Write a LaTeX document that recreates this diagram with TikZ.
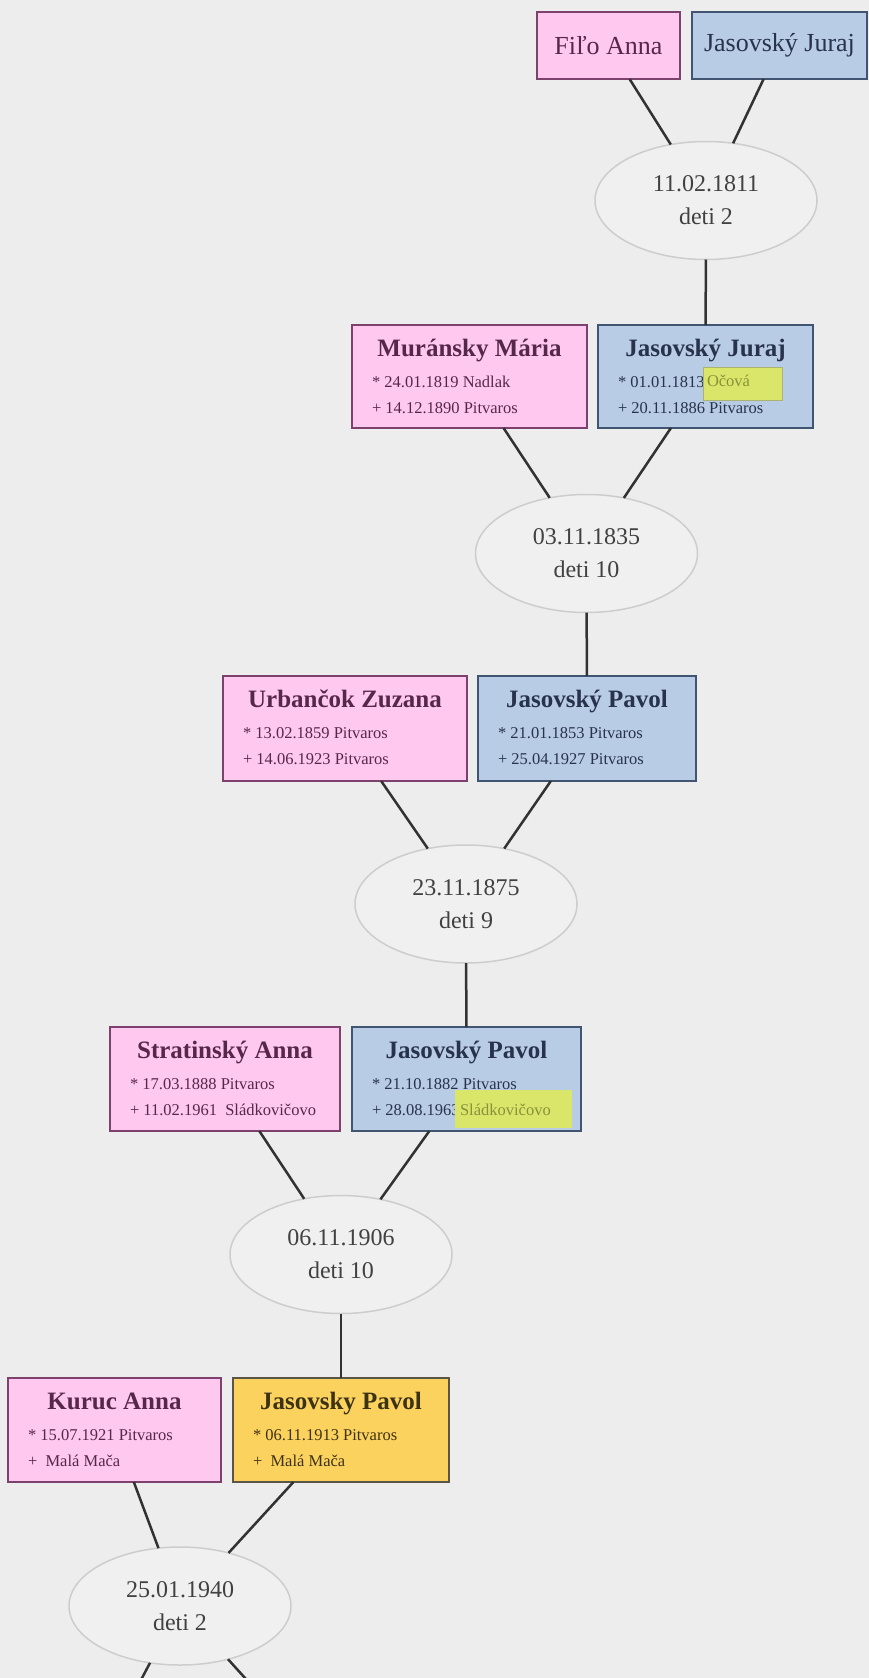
\documentclass[tikz,border=0pt]{standalone}
\usepackage{fontspec}
\setmainfont{Liberation Serif}
\usetikzlibrary{shapes.geometric}
\definecolor{bgc}{RGB}{237,237,237}
\definecolor{pinkf}{RGB}{255,200,238}
\definecolor{pinkd}{RGB}{125,65,110}
\definecolor{pinkt}{RGB}{85,40,75}
\definecolor{bluef}{RGB}{184,204,230}
\definecolor{blued}{RGB}{65,85,115}
\definecolor{bluet}{RGB}{40,50,75}
\definecolor{yelf}{RGB}{252,210,95}
\definecolor{yeld}{RGB}{90,85,70}
\definecolor{yelt}{RGB}{60,50,20}
\definecolor{ellb}{RGB}{205,205,205}
\definecolor{ellf}{RGB}{240,240,240}
\definecolor{ellt}{RGB}{65,65,65}
\definecolor{edgec}{RGB}{50,50,50}
\definecolor{hlf}{RGB}{218,230,105}
\definecolor{hlt}{RGB}{135,145,60}
\definecolor{hld}{RGB}{170,180,110}
\tikzset{
  every node/.style={inner sep=0pt, outer sep=0pt},
  pinkbox/.style={rectangle, draw=pinkd, fill=pinkf, line width=2.5pt},
  bluebox/.style={rectangle, draw=blued, fill=bluef, line width=2.5pt},
  yelbox/.style={rectangle, draw=yeld, fill=yelf, line width=2.5pt},
  pinktitle/.style={text=pinkt, font=\fontsize{25}{30}\selectfont\bfseries},
  bluetitle/.style={text=bluet, font=\fontsize{25}{30}\selectfont\bfseries},
  yeltitle/.style={text=yelt, font=\fontsize{25}{30}\selectfont\bfseries},
  pinkdet/.style={text=pinkt, font=\fontsize{16.5}{20}\selectfont},
  bluedet/.style={text=bluet, font=\fontsize{16.5}{20}\selectfont},
  yeldet/.style={text=yelt, font=\fontsize{16.5}{20}\selectfont},
  topname/.style={font=\fontsize{26}{30}\selectfont},
  marriage/.style={ellipse, draw=ellb, fill=ellf, line width=1.5pt,
    minimum width=222pt, minimum height=118pt, align=center, text=ellt,
    font=\fontsize{24}{33}\selectfont},
  hlbox/.style={rectangle, fill=hlf},
  hltext/.style={text=hlt, font=\fontsize{16.5}{20}\selectfont},
  edge/.style={draw=edgec, line width=2.5pt},
}
\newcommand\persbox[9]{%
  \node[#2box, minimum width=#5pt, minimum height=#6pt] (#1) at ({#3+#5/2},{#4+#6/2}) {};
  \node[#2title, anchor=base] (#1t) at ({#3+#5/2},{#4+31}) {#7};
  \node[#2det, anchor=base west] (#1a) at ({#3+20},{#4+62}) {#8};
  \node[#2det, anchor=base west] (#1b) at ({#3+20},{#4+88}) {#9};
}
\begin{document}
\begin{tikzpicture}[x=1pt, y=-1pt]
\useasboundingbox (0,0) rectangle (869,1678);
\fill[bgc] (0,0) rectangle (869,1678);
\clip (0,0) rectangle (869,1678);

% top generation
\node[pinkbox, topname, text=pinkt, minimum width=143pt, minimum height=67pt] (fil) at (608.5,45.5) {Fiľo Anna};
\node[bluebox, topname, text=bluet, minimum width=175pt, minimum height=67pt] (jur1) at (779.5,45.5) {Jasovský Juraj};

% marriages
\node[marriage] (e1) at (706,200.5) {11.02.1811\\deti 2};
\node[marriage] (e2) at (586.5,553.5) {03.11.1835\\deti 10};
\node[marriage] (e3) at (466,904) {23.11.1875\\deti 9};
\node[marriage] (e4) at (341,1254.5) {06.11.1906\\deti 10};
\node[marriage] (e5) at (180,1606) {25.01.1940\\deti 2};

% persons
\persbox{mur}{pink}{352}{325}{235}{103}{Muránsky Mária}{* 24.01.1819 Nadlak}{+ 14.12.1890 Pitvaros}
\persbox{jur2}{blue}{598}{325}{215}{103}{Jasovský Juraj}{* 01.01.1813}{+ 20.11.1886 Pitvaros}
\persbox{urb}{pink}{223}{676}{244}{105}{Urbančok Zuzana}{* 13.02.1859 Pitvaros}{+ 14.06.1923 Pitvaros}
\persbox{pav1}{blue}{478}{676}{218}{105}{Jasovský Pavol}{* 21.01.1853 Pitvaros}{+ 25.04.1927 Pitvaros}
\persbox{stra}{pink}{110}{1027}{230}{104}{Stratinský Anna}{* 17.03.1888 Pitvaros}{+ 11.02.1961 ~Sládkovičovo}
\persbox{pav2}{blue}{352}{1027}{229}{104}{Jasovský Pavol}{* 21.10.1882 Pitvaros}{+ 28.08.1963}
\persbox{kur}{pink}{8}{1378}{213}{104}{Kuruc Anna}{* 15.07.1921 Pitvaros}{+~~Malá Mača}
\persbox{pav3}{yel}{233}{1378}{216}{104}{Jasovsky Pavol}{* 06.11.1913 Pitvaros}{+~~Malá Mača}

% highlights
\node[hlbox, draw=hld, line width=1pt, minimum width=79pt, minimum height=33pt] (hl1) at (742.5,383.5) {};
\node[hltext, anchor=base west] (hl1t) at (707,386) {Očová};
\node[hlbox, minimum width=117pt, minimum height=38pt] (hl2) at (513.5,1109) {};
\node[hltext, anchor=base west] (hl2t) at (460,1115) {Sládkovičovo};

% off-picture children
\coordinate (cL) at (130.6,1699.6);
\coordinate (cR) at (264.5,1699.6);

% connectors
\draw[edge] (fil) -- (e1);
\draw[edge] (jur1) -- (e1);
\draw[edge] (e1) -- (jur2);
\draw[edge] (mur) -- (e2);
\draw[edge] (jur2) -- (e2);
\draw[edge] (e2) -- (pav1);
\draw[edge] (urb) -- (e3);
\draw[edge] (pav1) -- (e3);
\draw[edge] (e3) -- (pav2);
\draw[edge] (stra) -- (e4);
\draw[edge] (pav2) -- (e4);
\draw[edge] (e4) -- (pav3);
\draw[edge] (kur) -- (e5);
\draw[edge] (pav3) -- (e5);
\draw[edge] (e5) -- (cL);
\draw[edge] (e5) -- (cR);
\end{tikzpicture}
\end{document}
